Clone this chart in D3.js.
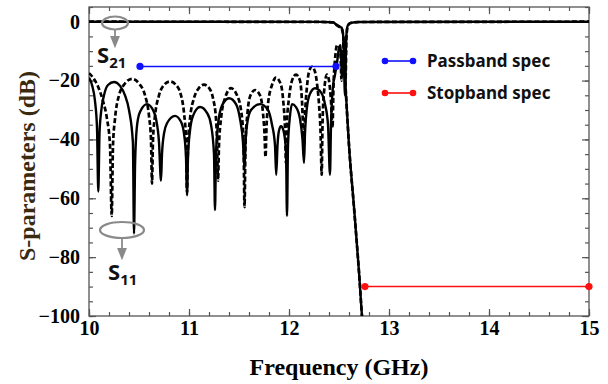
<!DOCTYPE html>
<html>
<head>
<meta charset="utf-8">
<script src="https://cdn.jsdelivr.net/npm/d3@7"></script>
<style>
  body { margin: 0; background: #fff; }
</style>
</head>
<body>
<div id="chart"></div>
<script>
// tick labels
const xTicks = [10, 11, 12, 13, 14, 15];
const yTicks = [0, -20, -40, -60, -80, -100];

// S21 (solid and dashed design, almost on top of each other)
const s21Solid = [[10, 0], [12.3, -0.05], [12.44, -0.2], [12.47, -0.9], [12.5, -1.5], [12.525, -2],
  [12.54, -4], [12.55, -12], [12.57, -25], [12.6, -42], [12.65, -63], [12.7, -85], [12.73, -100], [12.74, -104]];
const s21Dashed = [[10, 0], [12.3, -0.05], [12.44, -0.25], [12.47, -1], [12.5, -1.7], [12.525, -2.3],
  [12.542, -4.5], [12.552, -13], [12.572, -26], [12.602, -43], [12.652, -64], [12.702, -86], [12.732, -101], [12.742, -105]];

// S11 solid
const s11Solid = [[10, -19], [10.03, -21.5], [10.06, -27], [10.08, -36], [10.093, -57.7],
  [10.105, -38], [10.12, -31], [10.15, -25], [10.19, -21.5], [10.25, -20.5], [10.31, -21.8], [10.36, -25], [10.4, -30], [10.439, -41], [10.45, -72],
  [10.461, -48], [10.47, -40], [10.49, -33], [10.52, -30], [10.58, -28], [10.64, -30], [10.67, -33], [10.7, -41], [10.72, -54],
  [10.73, -45], [10.75, -38], [10.78, -34.5], [10.86, -32], [10.92, -34], [10.95, -38], [10.97, -46], [10.98, -59],
  [10.99, -46], [11.01, -37], [11.04, -32], [11.11, -29], [11.18, -31], [11.22, -35], [11.25, -45], [11.26, -64],
  [11.27, -45], [11.29, -35], [11.33, -28.5], [11.4, -26], [11.47, -28], [11.51, -33], [11.54, -41], [11.555, -50],
  [11.565, -41], [11.58, -35], [11.62, -30], [11.71, -28], [11.79, -30], [11.83, -35], [11.86, -42], [11.872, -52],
  [11.885, -42], [11.9, -37], [11.92, -35.5], [11.945, -37], [11.97, -44], [11.98, -66],
  [11.99, -42], [12.01, -32], [12.03, -28], [12.07, -29], [12.11, -33], [12.135, -40], [12.15, -48],
  [12.16, -38], [12.18, -29], [12.21, -24.5], [12.26, -22.6], [12.32, -24], [12.36, -28], [12.39, -35], [12.41, -52],
  [12.42, -35], [12.44, -22], [12.46, -18], [12.48, -14], [12.5, -9], [12.515, -8], [12.53, -18],
  [12.545, -10], [12.56, -25], [12.572, -6], [12.585, -1.5], [12.61, -0.5], [12.7, -0.1], [15, 0]];

// S11 dashed
const s11Dashed = [[10, -17.5], [10.04, -19], [10.09, -22], [10.14, -27], [10.18, -33], [10.21, -42], [10.227, -66],
  [10.24, -42], [10.26, -33], [10.3, -25], [10.36, -21], [10.43, -19.4], [10.5, -21], [10.56, -25], [10.6, -32], [10.62, -40], [10.63, -55],
  [10.64, -40], [10.66, -32], [10.7, -25], [10.75, -21.5], [10.81, -20.3], [10.87, -21.5], [10.92, -25], [10.95, -31], [10.97, -40], [10.98, -58],
  [10.99, -42], [11.01, -33], [11.05, -26], [11.1, -22.5], [11.15, -21.4], [11.2, -22.5], [11.24, -26], [11.27, -33], [11.28, -40], [11.29, -54],
  [11.3, -42], [11.32, -33], [11.36, -26], [11.42, -22.6], [11.48, -25], [11.52, -30], [11.545, -40], [11.555, -63],
  [11.565, -42], [11.585, -31], [11.615, -25], [11.66, -23.2], [11.71, -25], [11.74, -31], [11.755, -38], [11.765, -46],
  [11.775, -36], [11.79, -28], [11.83, -21.5], [11.87, -19], [11.92, -21.5], [11.945, -28], [11.96, -36], [11.97, -48],
  [11.98, -34], [12, -26], [12.03, -20], [12.07, -18], [12.11, -20], [12.13, -27], [12.15, -42],
  [12.16, -32], [12.18, -22], [12.2, -17], [12.23, -15.3], [12.26, -17], [12.28, -21], [12.3, -28], [12.315, -37], [12.327, -52],
  [12.335, -35], [12.35, -24], [12.38, -18], [12.4, -20], [12.42, -27], [12.435, -36],
  [12.445, -22], [12.46, -13], [12.48, -8], [12.5, -8.5], [12.515, -11], [12.525, -20], [12.535, -12],
  [12.55, -6], [12.565, -20], [12.575, -5], [12.59, -1.2], [12.62, -0.4], [12.7, -0.1], [15, 0]];

// specs
const passbandSpec = [[10.51, -15.2], [12.47, -15.2]];
const stopbandSpec = [[12.76, -90], [15, -90]];
const legendItems = ["Passband spec", "Stopband spec"];

const margin = { top: 7, right: 19, bottom: 68, left: 89 };
const width = 608 - margin.left - margin.right;
const height = 384 - margin.top - margin.bottom;

const svg = d3.select("#chart")
  .append("svg")
  .attr("width", 608)
  .attr("height", 384)
  .append("g")
  .attr("transform", `translate(${margin.left},${margin.top})`);

const x = d3.scaleLinear().domain([10, 15]).range([0, width]);
const y = d3.scaleLinear().domain([-100, 5]).range([height, 0]);

svg.append("defs").append("clipPath").attr("id", "plotclip")
  .append("rect").attr("width", width).attr("height", height);

const serif = "'Liberation Serif', 'Times New Roman', serif";
const sans = "'Noto Sans', 'Open Sans', sans-serif";

// axes: major with labels, minor without, mirrored on top/right
function styleAxis(g) {
  g.select(".domain").remove();
  g.selectAll("line").attr("stroke", "#555").attr("stroke-width", 1.2);
  g.selectAll("text").attr("font-family", serif).attr("font-weight", "bold")
    .attr("font-size", 20).attr("fill", "#000");
}

svg.append("g").attr("transform", `translate(0,${height})`)
  .call(d3.axisBottom(x).tickValues(xTicks).tickSizeInner(-7).tickSizeOuter(0).tickPadding(5).tickFormat(d3.format("d")))
  .call(styleAxis);
svg.append("g").attr("transform", `translate(0,${height})`)
  .call(d3.axisBottom(x).ticks(25).tickSizeInner(-4).tickSizeOuter(0).tickFormat(""))
  .call(styleAxis);
svg.append("g")
  .call(d3.axisTop(x).tickValues(xTicks).tickSizeInner(-7).tickSizeOuter(0).tickFormat(""))
  .call(styleAxis);
svg.append("g")
  .call(d3.axisTop(x).ticks(25).tickSizeInner(-4).tickSizeOuter(0).tickFormat(""))
  .call(styleAxis);

svg.append("g")
  .call(d3.axisLeft(y).tickValues(yTicks).tickSizeInner(-7).tickSizeOuter(0).tickPadding(9))
  .call(styleAxis);
svg.append("g")
  .call(d3.axisLeft(y).ticks(21).tickSizeInner(-4).tickSizeOuter(0).tickFormat(""))
  .call(styleAxis);
svg.append("g").attr("transform", `translate(${width},0)`)
  .call(d3.axisRight(y).tickValues(yTicks).tickSizeInner(-7).tickSizeOuter(0).tickFormat(""))
  .call(styleAxis);
svg.append("g").attr("transform", `translate(${width},0)`)
  .call(d3.axisRight(y).ticks(21).tickSizeInner(-4).tickSizeOuter(0).tickFormat(""))
  .call(styleAxis);

svg.append("rect")
  .attr("width", width).attr("height", height)
  .attr("fill", "none").attr("stroke", "#555").attr("stroke-width", 1.3);

// curves
const line = d3.line()
  .x(d => x(d[0]))
  .y(d => y(d[1]))
  .curve(d3.curveMonotoneX);

const plot = svg.append("g").attr("clip-path", "url(#plotclip)");

plot.append("path").datum(s11Dashed)
  .attr("d", line).attr("fill", "none").attr("stroke", "#000")
  .attr("stroke-width", 2.7).attr("stroke-dasharray", "5,2.5");
plot.append("path").datum(s11Solid)
  .attr("d", line).attr("fill", "none").attr("stroke", "#000").attr("stroke-width", 2.4);
plot.append("path").datum(s21Dashed)
  .attr("d", line).attr("fill", "none").attr("stroke", "#000")
  .attr("stroke-width", 2.7).attr("stroke-dasharray", "5,2.5");
plot.append("path").datum(s21Solid)
  .attr("d", line).attr("fill", "none").attr("stroke", "#000").attr("stroke-width", 2.4);

// spec lines
function specLine(data, color) {
  svg.append("path").datum(data)
    .attr("d", d3.line().x(d => x(d[0])).y(d => y(d[1])))
    .attr("stroke", color).attr("stroke-width", 1.6).attr("fill", "none");
  svg.selectAll(null).data(data).enter().append("circle")
    .attr("cx", d => x(d[0])).attr("cy", d => y(d[1]))
    .attr("r", 3.6).attr("fill", color);
}
specLine(passbandSpec, "#1010ff");
specLine(stopbandSpec, "#ff1010");

// legend
const legendColors = ["#1010ff", "#ff1010"];
const legend = svg.append("g").attr("transform", "translate(296,54)");
legendItems.forEach((name, i) => {
  const g = legend.append("g").attr("transform", `translate(0,${i * 32})`);
  g.append("line").attr("x1", 0).attr("x2", 28).attr("stroke", legendColors[i]).attr("stroke-width", 1.6);
  g.append("circle").attr("cx", 0).attr("r", 3.3).attr("fill", legendColors[i]);
  g.append("circle").attr("cx", 28).attr("r", 3.3).attr("fill", legendColors[i]);
  g.append("text").attr("x", 42).attr("dy", "0.35em")
    .attr("font-family", sans).attr("font-weight", "bold").attr("font-size", 17)
    .attr("fill", "#111").text(name);
});

// S21 / S11 annotations
const annGray = "#8a8a8a";
const root = d3.select("#chart svg");
root.append("defs").append("marker")
  .attr("id", "arrowhead").attr("viewBox", "0 0 10 10")
  .attr("refX", 5).attr("refY", 5).attr("markerWidth", 7).attr("markerHeight", 7)
  .attr("orient", "auto")
  .append("path").attr("d", "M0,1 L10,5 L0,9 z").attr("fill", annGray);

function annotate(cx, cy, rx, ry, tipY, labelX, labelY, sub) {
  root.append("ellipse").attr("cx", cx).attr("cy", cy).attr("rx", rx).attr("ry", ry)
    .attr("fill", "none").attr("stroke", annGray).attr("stroke-width", 2.2);
  root.append("line").attr("x1", cx).attr("x2", cx).attr("y1", cy + ry).attr("y2", tipY - 3)
    .attr("stroke", annGray).attr("stroke-width", 1.8).attr("marker-end", "url(#arrowhead)");
  const t = root.append("text").attr("x", labelX).attr("y", labelY)
    .attr("font-family", sans).attr("font-weight", "bold").attr("fill", "#111");
  t.append("tspan").attr("font-size", 22).text("S");
  t.append("tspan").attr("font-size", 15).attr("dy", 5).text(sub);
}
annotate(115, 23, 13, 6.5, 45, 97, 63, "21");
annotate(122, 230, 22, 8, 257, 108, 280, "11");

// axis titles
svg.append("text")
  .attr("x", width / 2)
  .attr("y", height + 59)
  .attr("text-anchor", "middle")
  .attr("font-family", serif).attr("font-weight", "bold").attr("font-size", 24)
  .text("Frequency (GHz)");

svg.append("text")
  .attr("transform", `translate(${27 - margin.left},${166 - margin.top}) rotate(-90)`)
  .attr("text-anchor", "middle")
  .attr("dy", "0.35em")
  .attr("font-family", serif).attr("font-weight", "bold").attr("font-size", 24)
  .attr("fill", "#3a2a10")
  .text("S-parameters (dB)");
</script>
</body>
</html>
